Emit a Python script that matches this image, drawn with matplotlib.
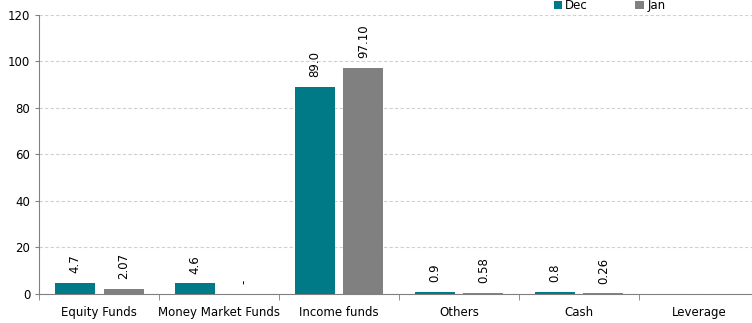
import matplotlib.pyplot as plt
import numpy as np

categories = ['Equity Funds', 'Money Market Funds', 'Income funds', 'Others', 'Cash', 'Leverage']
dec_values = [4.7, 4.6, 89.0, 0.9, 0.8, np.nan]
jan_values = [2.07, 0.0, 97.10, 0.58, 0.26, np.nan]
dec_labels = ['4.7', '4.6', '89.0', '0.9', '0.8', '']
jan_labels = ['2.07', '-', '97.10', '0.58', '0.26', '']

teal = '#007A87'
grey = '#808080'


def main():
    fig = plt.figure(figsize=(7.52, 3.23), dpi=100)
    # plot area runs slightly past the right edge of the image
    ax = fig.add_axes([0.0523, 0.09, 0.957, 0.864])

    x = np.arange(len(categories))
    width = 0.333
    off = 0.202

    dec_bars = ax.bar(x - off, np.nan_to_num(dec_values), width, color=teal, label='Dec', zorder=3)
    jan_bars = ax.bar(x + off, np.nan_to_num(jan_values), width, color=grey, label='Jan', zorder=3)

    # value labels, rotated above each bar
    for bars, labels in ((dec_bars, dec_labels), (jan_bars, jan_labels)):
        for b, lab in zip(bars, labels):
            if lab:
                ax.annotate(lab, (b.get_x() + b.get_width() / 2, b.get_height()),
                            xytext=(0, 7), textcoords='offset points',
                            rotation=90, ha='center', va='bottom', fontsize=8.5)

    ax.set_xlim(-0.5, len(categories) - 0.5)
    ax.set_ylim(0, 120)
    ax.set_yticks(range(0, 121, 20))
    ax.yaxis.grid(True, linestyle=(0, (3, 2)), color='#d0d0d0', linewidth=0.8, zorder=0)

    # category names centred, ticks on the boundaries
    ax.set_xticks(x)
    ax.set_xticklabels(categories, fontsize=8.5)
    ax.tick_params(axis='x', length=0, pad=9)
    ax.set_xticks(np.arange(-0.5, len(categories)), minor=True)
    ax.tick_params(axis='x', which='minor', length=4, color='#808080')
    ax.tick_params(axis='y', labelsize=8.5, length=3, color='#808080')

    for side in ('top', 'right'):
        ax.spines[side].set_visible(False)
    for side in ('left', 'bottom'):
        ax.spines[side].set_color('#808080')

    fig.legend(loc='upper left', bbox_to_anchor=(0.722, 1.035), ncol=2, frameon=False,
               fontsize=8.5, handlelength=0.7, handleheight=0.7, handletextpad=0.3,
               columnspacing=4.0)

    fig.savefig('out.png', dpi=100)


if __name__ == "__main__":
    main()
